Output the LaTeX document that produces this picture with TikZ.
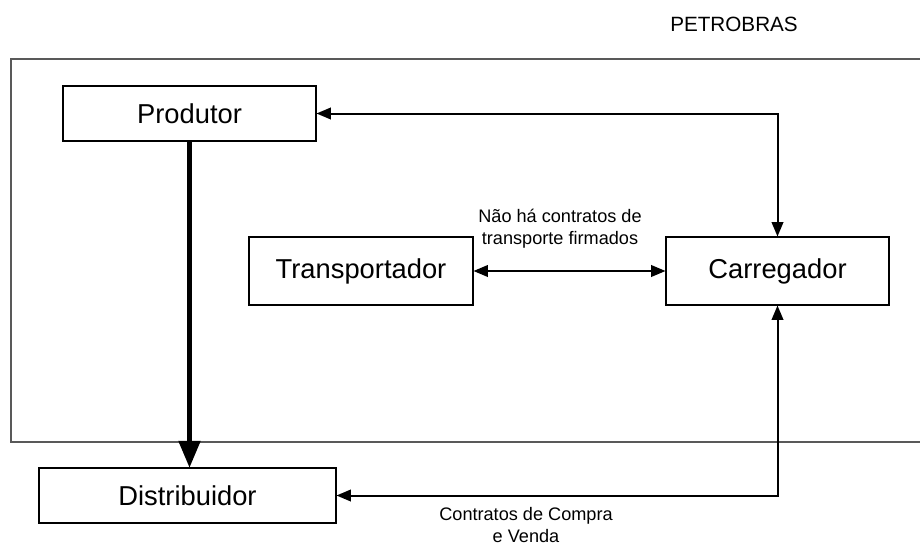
\documentclass[tikz,border=0pt]{standalone}
\usepackage{fontspec}
\setmainfont{Liberation Sans}
\usepackage{tikz}
\usetikzlibrary{shapes,arrows}

\begin{document}
\begin{tikzpicture}[x=0.75pt,y=-0.75pt,>=triangle 45,
        actor/.style={draw,line width=0.9pt,inner sep=0pt,font=\fontsize{20.5}{24}\selectfont},
        link/.style={<->,line width=1.5pt},
        note/.style={align=center,font=\fontsize{13.6}{16.5}\selectfont}]
        %--- Arguments ----
        \def \frameColor {black!65} % colour of the company frame
        %--- Frame ---
        \useasboundingbox (0,0) rectangle (920,546);
        \draw [\frameColor,line width=0.9pt] (11,59) rectangle (924,442);
        \node [font=\fontsize{15.5}{18}\selectfont] (petro) at (734,24) {PETROBRAS};
        %--- Boxes ---
        \node [actor,minimum width=189.75pt,minimum height=41.25pt] (prod) at (189.5,113.5) {Produtor};
        \node [actor,minimum width=168pt,minimum height=51pt] (trans) at (361,271) {Transportador};
        \node [actor,minimum width=167.25pt,minimum height=51pt] (carr) at (777.5,271) {Carregador};
        \node [actor,minimum width=222.75pt,minimum height=41.25pt] (dist) at (187.5,495.5) {Distribuidor};
        %--- Lines ---
        % product flow
        \draw [->,line width=3.75pt] (prod.south) -- (prod.south |- dist.north);
        % contracts
        \draw [link] (prod.east) -| (carr.north);
        \draw [link] (trans.east) -- (carr.west);
        \draw [link] (dist.east) -| (carr.south);
        %--- Labels ---
        \node [note] (nota) at (560,229) {Não há contratos de\\transporte firmados};
        \node [note] (compra) at (526,525) {Contratos de Compra\\e Venda};
    \end{tikzpicture}
\end{document}
